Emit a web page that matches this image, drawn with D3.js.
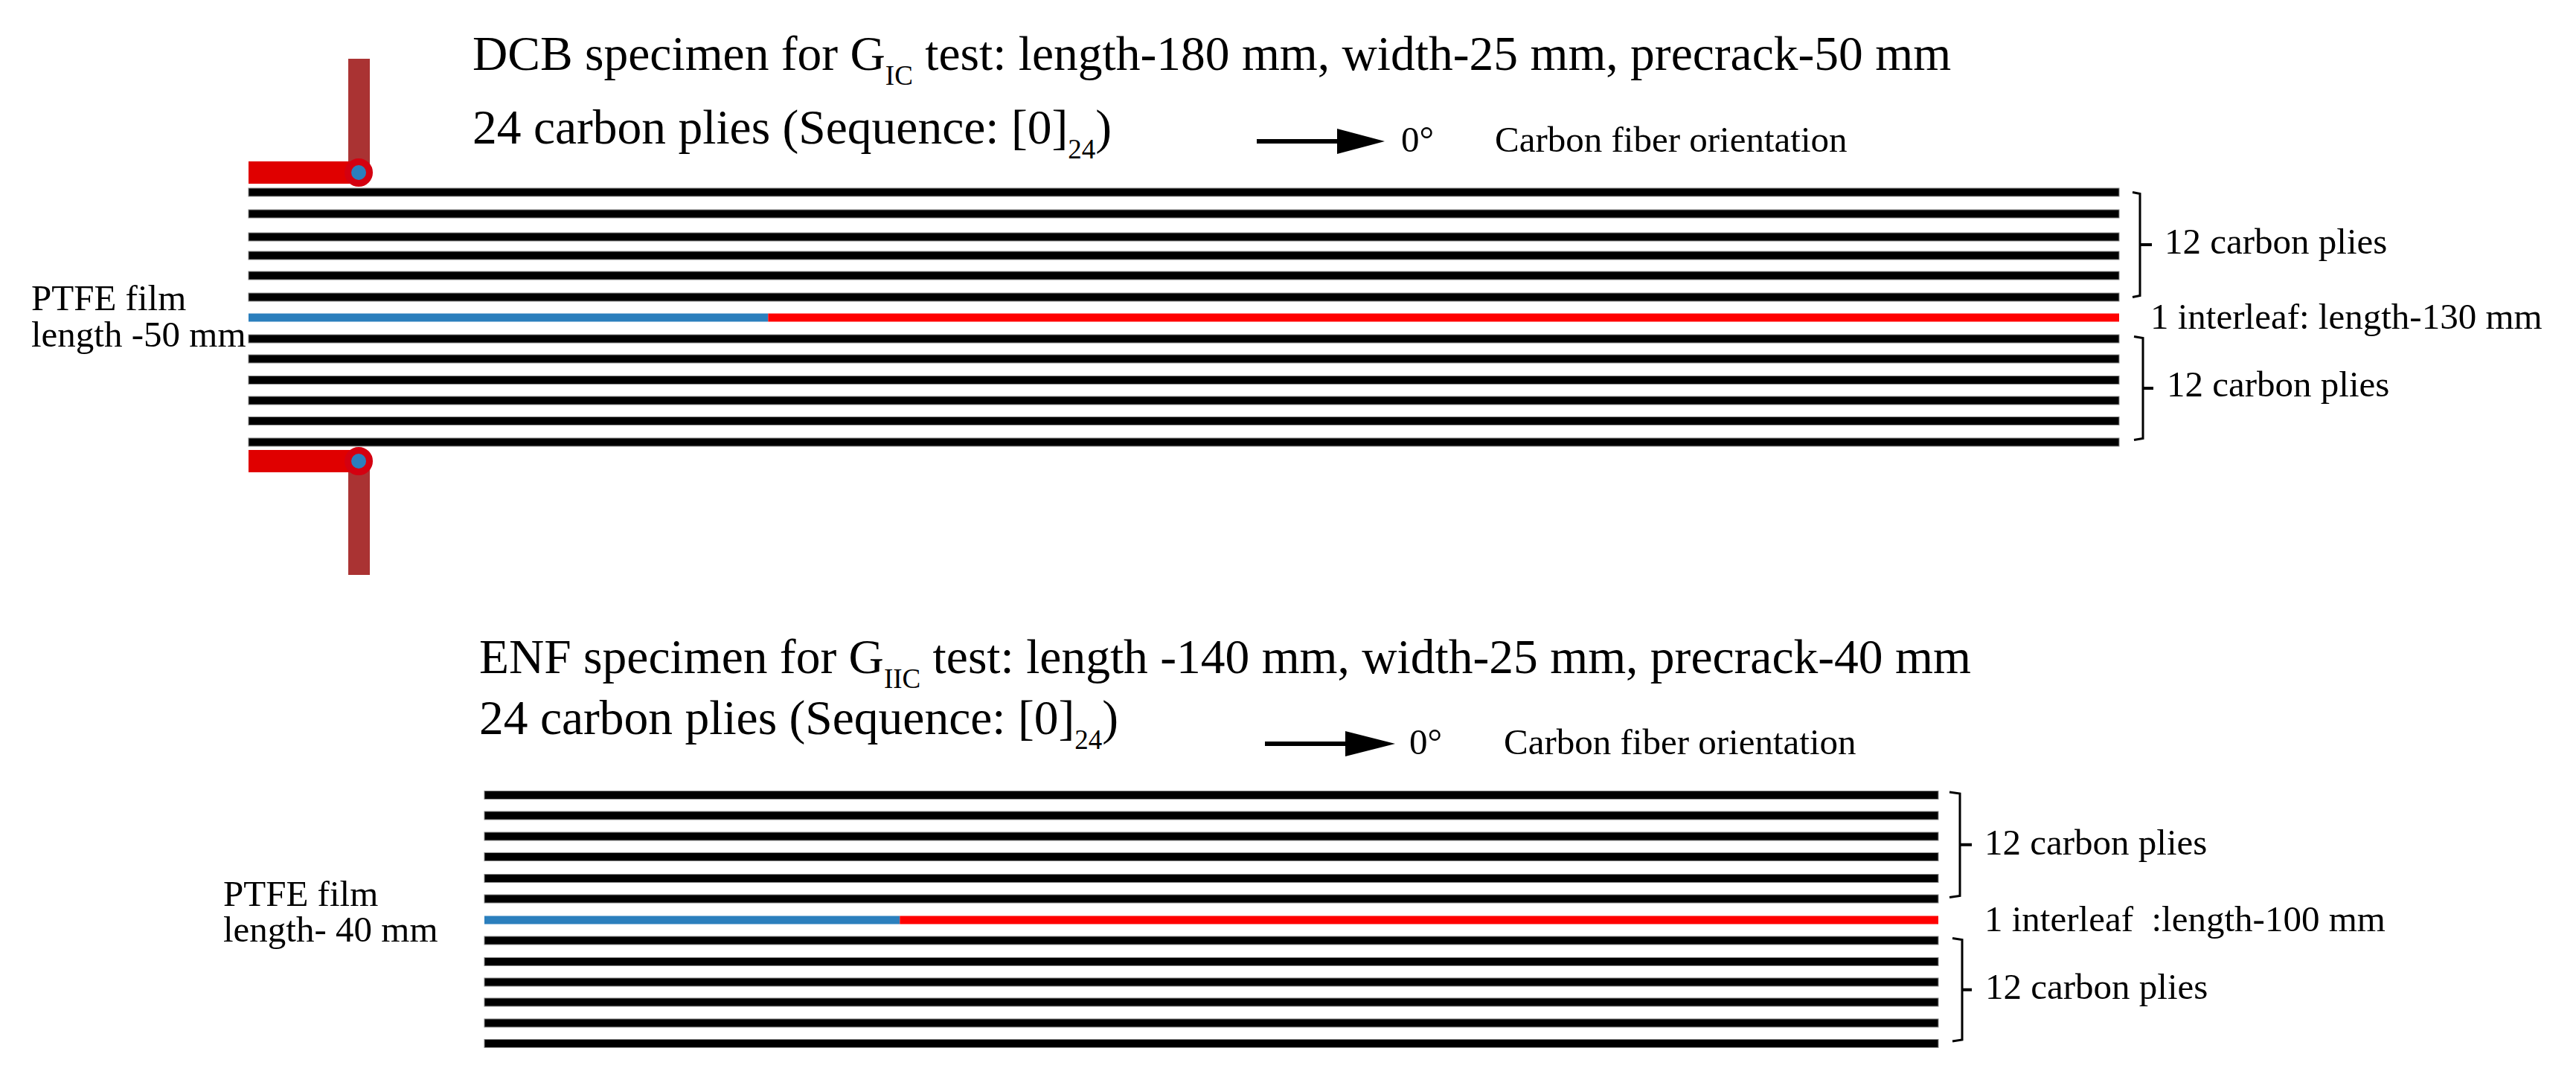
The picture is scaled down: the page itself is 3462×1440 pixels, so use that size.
<!DOCTYPE html>
<html>
<head>
<meta charset="utf-8">
<script src="https://d3js.org/d3.v7.min.js"></script>
<style>
  body { margin: 0; background: #fff; }
  text { font-family: "Liberation Serif", serif; fill: #000; white-space: pre; }
</style>
</head>
<body>
<div class="chart"></div>
<script>
// ply stack, top to bottom. "c" = carbon ply, "i" = interleaf
const layers = ["c1","c2","c3","c4","c5","c6","i","c7","c8","c9","c10","c11","c12"];
const upperPlies = ["c1","c2","c3","c4","c5","c6"];
const lowerPlies = ["c7","c8","c9","c10","c11","c12"];

// specimen lengths in mm
const dcbLength = 180, dcbPrecrack = 50;
const enfLength = 140, enfPrecrack = 40;

const dcbTitle = ["DCB specimen for G", "IC", " test: length-180 mm, width-25 mm, precrack-50 mm"];
const enfTitle = ["ENF specimen for G", "IIC", " test: length -140 mm, width-25 mm, precrack-40 mm"];
const plyLine = ["24 carbon plies (Sequence: [0]", "24", ")"];
const dcbFilm = ["PTFE film", "length -50 mm"];
const enfFilm = ["PTFE film", "length- 40 mm"];
const dcbInterleaf = "1 interleaf: length-130 mm";
const enfInterleaf = "1 interleaf  :length-100 mm";
const pliesLabel = "12 carbon plies";
const angleLabel = "0°";
const orientationLabel = "Carbon fiber orientation";

const width = 3462, height = 1440;
const plyHeight = 11;
const titleSize = 65.5, subSize = 37, labelSize = 49;

const svg = d3.select(".chart").append("svg")
  .attr("width", width)
  .attr("height", height)
  .style("display", "block");

const dcbX = d3.scaleLinear().domain([0, dcbLength]).range([334, 2848]);
const enfX = d3.scaleLinear().domain([0, enfLength]).range([651, 2605]);

// the plies are hand placed in the figure so the spacing is not quite even
const dcbY = d3.scaleOrdinal().domain(layers)
  .range([258.5, 287.5, 318.5, 343.5, 370.5, 399.5, 427, 455.5, 482.5, 511, 538.5, 566, 594.5]);
const enfY = d3.scaleOrdinal().domain(layers)
  .range([1069, 1096.5, 1124.5, 1152, 1181, 1208.5, 1237, 1264.5, 1293, 1320.5, 1347.5, 1375.5, 1403]);

function text(x, y, str, size) {
  return svg.append("text").attr("x", x).attr("y", y)
    .attr("font-size", size).text(str);
}

// main text, subscript, rest of the line
function subText(x, y, parts) {
  const t = svg.append("text").attr("x", x).attr("y", y).attr("font-size", titleSize);
  t.append("tspan").text(parts[0]);
  t.append("tspan").attr("font-size", subSize).attr("dy", 20).text(parts[1]);
  t.append("tspan").attr("dy", -20).text(parts[2]);
}

function drawStack(x, y, length, precrack) {
  svg.append("g").selectAll("rect")
    .data(layers.filter(d => d != "i"))
    .enter()
    .append("rect")
    .attr("x", x(0))
    .attr("y", d => y(d) - plyHeight / 2)
    .attr("width", x(length) - x(0))
    .attr("height", plyHeight)
    .attr("fill", "#000")
    .attr("stroke", "#8a8a8a")
    .attr("stroke-width", 1);

  // PTFE film then the interleaf
  svg.append("rect")
    .attr("x", x(0))
    .attr("y", y("i") - plyHeight / 2)
    .attr("width", x(precrack) - x(0))
    .attr("height", plyHeight)
    .attr("fill", "#2b7fbd");
  svg.append("rect")
    .attr("x", x(precrack))
    .attr("y", y("i") - plyHeight / 2)
    .attr("width", x(length) - x(precrack))
    .attr("height", plyHeight)
    .attr("fill", "#ff0000");
}

function bracket(x0, x1, tip, top, bottom) {
  const mid = (top + bottom) / 2;
  const path = d3.path();
  path.moveTo(x0, top);
  path.lineTo(x1, top + 2);
  path.lineTo(x1, bottom - 2);
  path.lineTo(x0, bottom);
  svg.append("path").attr("d", path.toString())
    .attr("fill", "none")
    .attr("stroke", "#000")
    .attr("stroke-width", 3);
  svg.append("line")
    .attr("x1", x1).attr("x2", tip)
    .attr("y1", mid).attr("y2", mid)
    .attr("stroke", "#000")
    .attr("stroke-width", 4);
}

function arrow(x0, x1, tip, y) {
  svg.append("line")
    .attr("x1", x0).attr("x2", x1)
    .attr("y1", y).attr("y2", y)
    .attr("stroke", "#000")
    .attr("stroke-width", 6);
  svg.append("path")
    .attr("d", d3.line()([[x1, y - 17], [tip, y], [x1, y + 17]]) + "Z")
    .attr("fill", "#000");
}

function grip(barY, hingeY, armEnd) {
  const x = dcbX;
  const hinge = x(10.6);
  const armTop = Math.min(hingeY, armEnd);
  svg.append("rect")
    .attr("x", hinge - 14).attr("width", 29)
    .attr("y", armTop).attr("height", Math.abs(armEnd - hingeY))
    .attr("fill", "#aa3333");
  svg.append("rect")
    .attr("x", x(0)).attr("width", hinge - x(0))
    .attr("y", barY).attr("height", 30)
    .attr("fill", "#e00000");
  svg.append("circle")
    .attr("cx", hinge).attr("cy", hingeY).attr("r", 14.5)
    .attr("fill", "#2b7fbd")
    .attr("stroke", "#d40010")
    .attr("stroke-width", 9);
}

// DCB
subText(635, 94, dcbTitle);
subText(635, 193, plyLine);
arrow(1689, 1797, 1861, 190);
text(1883, 204, angleLabel, labelSize);
text(2009, 204, orientationLabel, labelSize);

grip(217, 232, 79);
grip(605, 620, 773);
drawStack(dcbX, dcbY, dcbLength, dcbPrecrack);

text(42, 417, dcbFilm[0], labelSize);
text(42, 466, dcbFilm[1], labelSize);

bracket(2866, 2876, 2892, dcbY(upperPlies[0]), dcbY(upperPlies[5]));
bracket(2868, 2880, 2894, dcbY(lowerPlies[0]) - 3, dcbY(lowerPlies[5]) - 3);
text(2909, 341, pliesLabel, labelSize);
text(2890, 442, dcbInterleaf, labelSize);
text(2912, 533, pliesLabel, labelSize);

// ENF
subText(644, 905, enfTitle);
subText(644, 987, plyLine);
arrow(1700, 1808, 1875, 1000);
text(1894, 1014, angleLabel, labelSize);
text(2021, 1014, orientationLabel, labelSize);

drawStack(enfX, enfY, enfLength, enfPrecrack);

text(300, 1218, enfFilm[0], labelSize);
text(300, 1266, enfFilm[1], labelSize);

bracket(2620, 2634, 2650, enfY(upperPlies[0]) - 4, enfY(upperPlies[5]) - 2);
bracket(2624, 2637, 2650, enfY(lowerPlies[0]) - 3, enfY(lowerPlies[5]) - 3);
text(2667, 1149, pliesLabel, labelSize);
text(2667, 1252, enfInterleaf, labelSize);
text(2668, 1343, pliesLabel, labelSize);
</script>
</body>
</html>
